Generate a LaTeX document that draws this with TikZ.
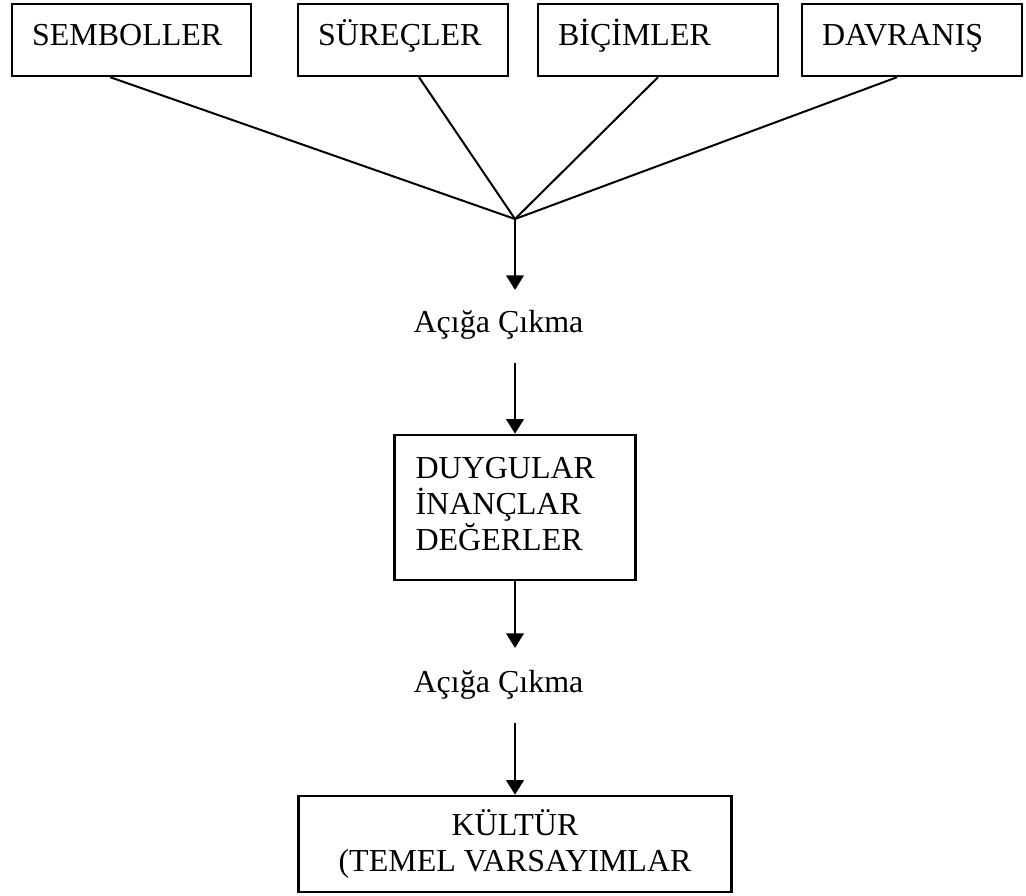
\documentclass[tikz,border=0pt]{standalone}
\usepackage{fontspec}
\setmainfont{Liberation Serif}
\usetikzlibrary{arrows.meta,positioning}

\begin{document}
\begin{tikzpicture}[x=0.375pt, y=-0.375pt,
    every node/.style={font=\fontsize{12}{13.5}\selectfont},
    topbox/.style={draw, rectangle, line width=0.9pt, minimum height=27pt,
      inner xsep=7.5pt, inner ysep=0pt, text height=0.7em, text depth=0.25em, align=left},
    midbox/.style={draw, rectangle, line width=0.9pt, minimum height=54.4pt,
      inner xsep=7.9pt, text width=74.6pt, text depth=30pt, align=left},
    basebox/.style={draw, rectangle, line width=0.9pt, minimum width=162.4pt,
      minimum height=36pt, align=center},
    link/.style={line width=0.75pt},
    flow/.style={line width=1.1pt, -{Triangle[length=5.5pt,width=6.5pt]}}]

  \useasboundingbox (0,0) rectangle (1026,895);

  % top row
  \node[topbox, text width=74.6pt] (sembol) at (131.5,40) {SEMBOLLER};
  \node[topbox, text width=63.75pt] (surec) at (403,40) {SÜREÇLER};
  \node[topbox, text width=75pt] (bicim) at (658,40) {BİÇİMLER};
  \node[topbox, text width=67.5pt] (davranis) at (912,40) {DAVRANIŞ};

  \coordinate (hub) at (515,219);
  \coordinate (tip1) at (515,290);
  \node[anchor=base] (acig1) at (498.5,332) {Açığa Çıkma};
  \coordinate (from1) at (515,363);

  \node[midbox] (degerler) at (515,507.5) {DUYGULAR\\İNANÇLAR\\DEĞERLER};

  \coordinate (tip2) at (515,648);
  \node[anchor=base] (acig2) at (498.5,692) {Açığa Çıkma};
  \coordinate (from2) at (515,723);

  \node[basebox] (kultur) at (515,844) {KÜLTÜR\\(TEMEL VARSAYIMLAR};

  \draw[link] ([xshift=-8pt]sembol.south) -- (hub);
  \draw[link] ([xshift=6pt]surec.south) -- (hub);
  \draw[link] (bicim.south) -- (hub);
  \draw[link] ([xshift=-5.6pt]davranis.south) -- (hub);

  \draw[flow] (hub) -- (tip1);
  \draw[flow] (from1) -- (degerler.north);
  \draw[flow] (degerler.south) -- (tip2);
  \draw[flow] (from2) -- (kultur.north);

\end{tikzpicture}
\end{document}
